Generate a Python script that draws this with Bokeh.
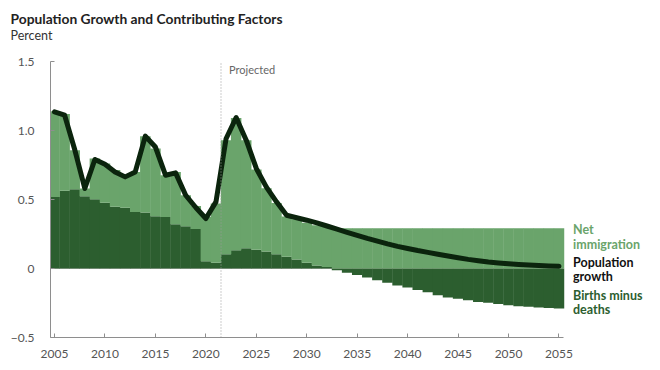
from bokeh.plotting import figure
from bokeh.models import Range1d, Label, FixedTicker, ColumnDataSource
from bokeh.layouts import column
from bokeh.embed import file_html
from bokeh.resources import INLINE

# ---------------- data (percent) ----------------
years = list(range(2005, 2056))

births_minus_deaths = [
    0.519, 0.563, 0.575, 0.524, 0.502, 0.476, 0.447, 0.440, 0.410, 0.406,
    0.379, 0.374, 0.321, 0.307, 0.287, 0.053, 0.041, 0.104, 0.133, 0.147,
    0.136, 0.124, 0.103, 0.085, 0.066, 0.041, 0.022, 0.010, -0.012, -0.031,
    -0.048, -0.065, -0.085, -0.104, -0.123, -0.138, -0.155, -0.172, -0.193, -0.210,
    -0.220, -0.230, -0.242, -0.249, -0.258, -0.266, -0.273, -0.278, -0.283, -0.287,
    -0.290,
]

net_immigration = [
    0.621, 0.557, 0.282, 0.056, 0.295, 0.285, 0.266, 0.229, 0.290, 0.553,
    0.491, 0.302, 0.379, 0.224, 0.165, 0.321, 0.430, 0.826, 0.957, 0.783,
    0.582, 0.457, 0.371, 0.291, 0.290, 0.290, 0.291, 0.292, 0.292, 0.292,
    0.292, 0.292, 0.292, 0.292, 0.292, 0.292, 0.292, 0.292, 0.292, 0.292,
    0.292, 0.292, 0.292, 0.292, 0.292, 0.292, 0.292, 0.292, 0.292, 0.292,
    0.292,
]

population_growth = [
    1.135, 1.111, 0.862, 0.580, 0.790, 0.756, 0.700, 0.664, 0.700, 0.959,
    0.880, 0.676, 0.693, 0.531, 0.442, 0.362, 0.483, 0.940, 1.094, 0.930,
    0.725, 0.590, 0.483, 0.386, 0.368, 0.350, 0.330, 0.308, 0.285, 0.262,
    0.240, 0.218, 0.198, 0.178, 0.160, 0.145, 0.130, 0.117, 0.103, 0.090,
    0.078, 0.066, 0.056, 0.047, 0.040, 0.034, 0.029, 0.025, 0.022, 0.019,
    0.017,
]

x_ticks = [2005, 2010, 2015, 2020, 2025, 2030, 2035, 2040, 2045, 2050, 2055]
y_ticks = [-0.5, 0, 0.5, 1.0, 1.5]
y_tick_labels = ["\u22120.5", "0", "0.5", "1.0", "1.5"]

projection_start = 2021.5
title_text = "Population Growth and Contributing Factors"
subtitle_text = "Percent"
projected_text = "Projected"
legend_texts = ["Net\nimmigration", "Population\ngrowth", "Births minus\ndeaths"]

# ---------------- colours ----------------
LIGHT = "#6aa46b"
DARK = "#2c5e2f"
LINE = "#0b240d"
AXIS = "#8e8e8e"
FONT = "Lato"

X_LO, X_HI = 2004.6, 2055.45     # extent of the axis
Y_LO, Y_HI = -0.5, 1.5
W = 652
HEAD_H = 50

# ---------------- header (title + unit) ----------------
head = figure(width=W, height=HEAD_H, output_backend="svg", toolbar_location=None,
              x_range=Range1d(0, W), y_range=Range1d(HEAD_H, 0),
              x_axis_type=None, y_axis_type=None,
              min_border_left=0, min_border_right=0, min_border_top=0,
              min_border_bottom=0)
head.frame_align = False
head.outline_line_color = None
head.xgrid.visible = False
head.ygrid.visible = False
head.add_layout(Label(x=10, y=18, text=title_text, text_font=FONT,
                      text_font_size="13.8px", text_font_style="bold",
                      text_color="#222222", text_baseline="middle",
                      text_align="left"))
head.add_layout(Label(x=10, y=35, text=subtitle_text, text_font=FONT,
                      text_font_size="12.5px", text_color="#333333",
                      text_baseline="middle", text_align="left"))

# ---------------- derived table ----------------
base = [max(b, 0.0) for b in births_minus_deaths]
imm_top = [bb + n for bb, n in zip(base, net_immigration)]
src = ColumnDataSource(dict(year=years, bmd=births_minus_deaths,
                            base=base, imm_top=imm_top, growth=population_growth))

p = figure(width=W, height=312, output_backend="svg", toolbar_location=None,
           x_range=Range1d(X_LO, 2064.07), y_range=Range1d(Y_LO, Y_HI),
           min_border_left=50, min_border_right=2, min_border_top=11,
           min_border_bottom=25)
p.frame_align = False
p.outline_line_color = None
p.xgrid.visible = False
p.ygrid.visible = False

# zero baseline
p.segment(x0=[X_LO], y0=[0], x1=[X_HI], y1=[0], line_color="#b5b5b5",
          line_width=1, level="underlay")

# bars
p.vbar(x="year", width=1.04, bottom=0, top="bmd", source=src,
       fill_color=DARK, line_color=None)
p.vbar(x="year", width=1.04, bottom="base", top="imm_top", source=src,
       fill_color=LIGHT, line_color=None)

# population growth line
p.line(x="year", y="growth", source=src, line_color=LINE, line_width=5,
       line_join="round", line_cap="round")

# projected divider
p.segment(x0=[projection_start], y0=[Y_LO], x1=[projection_start], y1=[Y_HI],
          line_color="#9a9a9a", line_width=1, line_dash="1 2")

# axes
for ax in (p.xaxis[0], p.yaxis[0]):
    ax.axis_line_color = AXIS
    ax.major_tick_line_color = AXIS
    ax.minor_tick_line_color = None
    ax.major_tick_in = 4
    ax.major_tick_out = 0
    ax.major_label_text_font = FONT
    ax.major_label_text_font_size = "12px"
    ax.major_label_text_color = "#555555"

p.xaxis.ticker = FixedTicker(ticks=x_ticks)
p.xaxis.bounds = (X_LO, X_HI)
p.xaxis.major_label_standoff = 12
p.yaxis.ticker = FixedTicker(ticks=y_ticks)
p.yaxis.major_label_overrides = {t: l for t, l in zip(y_ticks, y_tick_labels)}
p.yaxis.major_label_standoff = 16

# in-frame texts
p.add_layout(Label(x=2022.3, y=1.444, text=projected_text, text_font=FONT,
                   text_font_size="11px", text_color="#666666",
                   text_baseline="middle", text_align="left"))

legend_y = [0.335, 0.098, -0.138]
legend_colors = [LIGHT, "#111111", DARK]
for t, yy, c in zip(legend_texts, legend_y, legend_colors):
    p.add_layout(Label(x=2056.39, y=yy, text=t, text_font=FONT,
                       text_font_style="bold", text_font_size="12.5px",
                       text_color=c, text_baseline="top", text_align="left",
                       text_line_height=0.95))

layout = column(head, p, spacing=0)
open("out.html", "w").write(file_html(layout, INLINE))
